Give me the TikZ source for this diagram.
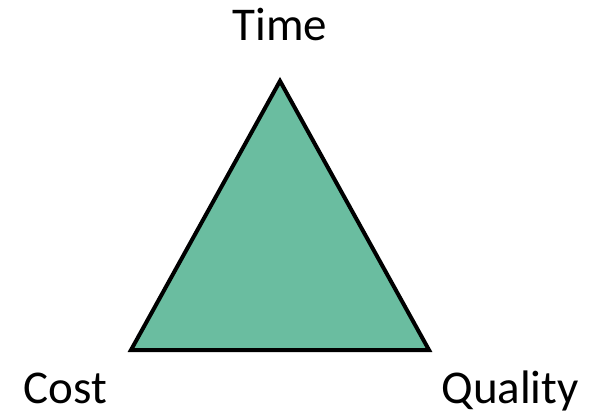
\documentclass[tikz,border=0pt]{standalone}
\usepackage{fontspec}
\setmainfont{Carlito}
\usetikzlibrary{positioning}
\definecolor{tritri}{RGB}{106,189,160}

\begin{document}
\begin{tikzpicture}[
  x=0.5pt, y=0.5pt,
  tri/.style   = {draw=black, line width=2pt, miter limit=10, fill=tritri},
  lbl/.style   = {inner sep=0pt, font=\fontsize{23.5}{28}\selectfont},
]
\useasboundingbox (0,0) rectangle (595,413);

% ---------- triangle corners ----------
\coordinate (apex)  at (280,332);
\coordinate (left)  at (131,63);
\coordinate (right) at (429,63);
\draw[tri] (left) -- (apex) -- (right) -- cycle;

% ---------- corner labels ----------
\node[lbl, anchor=base]      (time)    at (280,372) {Time};
\node[lbl, anchor=base west] (cost)    at (23,10)   {Cost};
\node[lbl, anchor=base west] (quality) at (441,10)  {Quality};

\end{tikzpicture}
\end{document}
